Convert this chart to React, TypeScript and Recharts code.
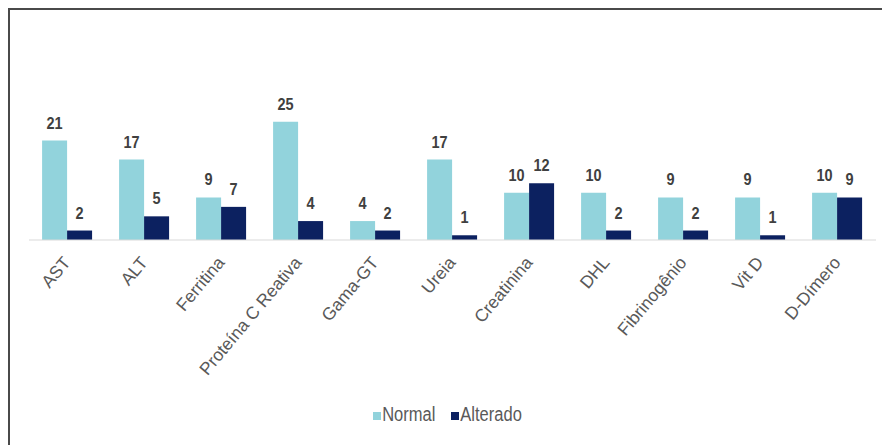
import React from "react";
import { BarChart, Bar, XAxis, YAxis, Legend, LabelList } from "recharts";

const categories = ["AST", "ALT", "Ferritina", "Proteína C Reativa", "Gama-GT", "Ureia", "Creatinina", "DHL", "Fibrinogênio", "Vit D", "D-Dímero"];
const normalValues = [21, 17, 9, 25, 4, 17, 10, 10, 9, 9, 10];
const alteradoValues = [2, 5, 7, 4, 2, 1, 12, 2, 2, 1, 9];
const seriesOrder = ["Normal", "Alterado"];

const data = categories.map((name, i) => ({ name, Normal: normalValues[i], Alterado: alteradoValues[i] }));

const FONT = "'Liberation Sans', Arial, sans-serif";

const Tick = (props: any) => {
  const { x, y, payload } = props;
  return (
    <g transform={`translate(${x + 4},${y + 15})`}>
      <text
        x={0}
        y={0}
        textAnchor="end"
        transform="rotate(-50)"
        fill="#595959"
        fontSize={17.5}
        fontFamily={FONT}
      >
        {payload.value}
      </text>
    </g>
  );
};

const ValueLabel = (props: any) => {
  const { x, y, width, value } = props;
  const cx = x + width / 2;
  return (
    <g transform={`translate(${cx},${y - 12}) scale(1,1.2)`}>
      <text x={0} y={0} textAnchor="middle" fill="#404040" fontSize={14.5} fontWeight="bold" fontFamily={FONT}>
        {value}
      </text>
    </g>
  );
};

export default function App() {
  return (
    <div
      style={{
        width: 880,
        height: 435,
        borderTop: "2px solid #4a4a4a",
        borderLeft: "2px solid #4a4a4a",
        background: "#fff",
      }}
    >
      <BarChart
        width={880}
        height={435}
        data={data}
        margin={{ top: 88, right: 14, bottom: 20, left: 19 }}
        barCategoryGap="17%"
        barGap={0}
      >
        <XAxis
          dataKey="name"
          interval={0}
          tickLine={false}
          axisLine={{ stroke: "#d9d9d9", strokeWidth: 1 }}
          tick={<Tick />}
          height={165}
        />
        <YAxis hide domain={[0, 30]} />
        <Legend
          verticalAlign="bottom"
          align="center"
          iconType="square"
          iconSize={8}
          height={20}
          itemSorter={(item: any) => seriesOrder.indexOf(item.dataKey ?? item.value)}
          wrapperStyle={{ fontFamily: FONT, fontSize: 16.5, color: "#595959", paddingLeft: 0 }}
          formatter={(value: string) => (
            <span
              style={{
                color: "#595959",
                marginLeft: -3,
                marginRight: value === "Normal" ? 6 : 0,
                display: "inline-block",
                transform: "scale(1,1.2)",
              }}
            >
              {value}
            </span>
          )}
        />
        <Bar dataKey="Normal" fill="#92d3dc" isAnimationActive={false}>
          <LabelList dataKey="Normal" content={<ValueLabel />} />
        </Bar>
        <Bar dataKey="Alterado" fill="#0c2160" isAnimationActive={false}>
          <LabelList dataKey="Alterado" content={<ValueLabel />} />
        </Bar>
      </BarChart>
    </div>
  );
}
